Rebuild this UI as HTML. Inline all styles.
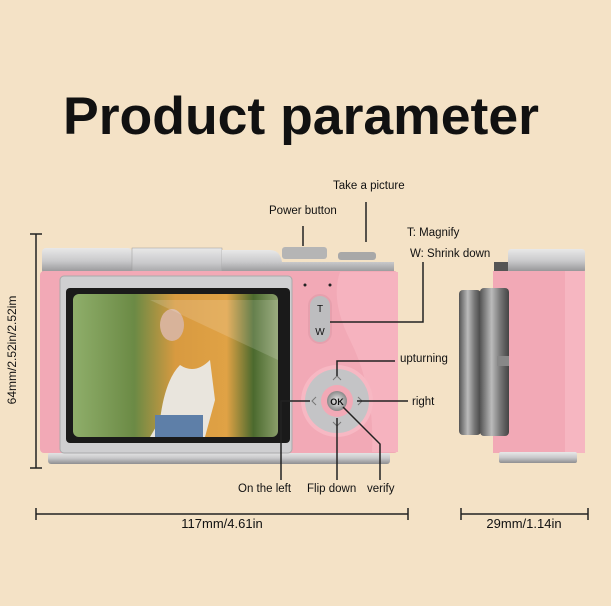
<!DOCTYPE html>
<html><head><style>
html,body{margin:0;padding:0;background:#f4e2c6;}
svg{display:block;}
text{font-family:"Liberation Sans",sans-serif;fill:#111;}
</style></head><body>
<svg width="611" height="606" viewBox="0 0 611 606" xmlns="http://www.w3.org/2000/svg">
<defs>
<linearGradient id="sil" x1="0" y1="0" x2="0" y2="1"><stop offset="0" stop-color="#e8e8e8"/><stop offset="0.5" stop-color="#c9c9cb"/><stop offset="1" stop-color="#8e8e90"/></linearGradient>
<linearGradient id="silh" x1="0" y1="0" x2="1" y2="0"><stop offset="0" stop-color="#555"/><stop offset="0.4" stop-color="#bbb"/><stop offset="0.7" stop-color="#777"/><stop offset="1" stop-color="#444"/></linearGradient>
<linearGradient id="photo" x1="0" y1="0" x2="1" y2="0"><stop offset="0" stop-color="#8fae6a"/><stop offset="0.3" stop-color="#6b8a45"/><stop offset="0.5" stop-color="#d89a40"/><stop offset="0.75" stop-color="#e0a245"/><stop offset="0.88" stop-color="#4b6a2e"/><stop offset="1" stop-color="#8a9e6a"/></linearGradient>
<radialGradient id="ok"><stop offset="0" stop-color="#f2f2f2"/><stop offset="1" stop-color="#888"/></radialGradient>
</defs>
<rect width="611" height="606" fill="#f4e2c6"/>
<text x="301" y="134" font-size="53" font-weight="bold" text-anchor="middle" textLength="476" lengthAdjust="spacingAndGlyphs">Product parameter</text>

<!-- main camera -->
<rect x="42" y="248" width="90" height="26" rx="4" fill="url(#sil)"/>
<rect x="132" y="248" width="90" height="30" fill="url(#sil)" stroke="#999" stroke-width="0.5"/>
<path d="M222 250 H270 Q280 250 282 262 H394 V274 H222Z" fill="url(#sil)"/>
<rect x="282" y="247" width="45" height="12" rx="3" fill="#b5b5b5"/>
<rect x="338" y="252" width="38" height="8" rx="3" fill="#a8a8a8"/>
<rect x="48" y="452" width="342" height="12" rx="3" fill="url(#sil)"/>
<rect x="40" y="271" width="358" height="182" rx="4" fill="#f2a9b6"/>
<path d="M340 272 Q330 300 350 340 Q375 390 372 452 H398 V272Z" fill="#f6b3bf"/>
<rect x="60" y="276" width="232" height="177" rx="4" fill="#cfcfd1" stroke="#aaa" stroke-width="1"/>
<rect x="66" y="288" width="224" height="155" rx="4" fill="#1a1a1a"/>
<rect x="73" y="294" width="205" height="143" rx="6" fill="url(#photo)"/>
<path d="M150 437 L160 420 Q165 380 180 365 Q195 375 210 360 L215 400 L205 437Z" fill="#e9e5dd"/>
<ellipse cx="172" cy="325" rx="12" ry="16" fill="#d8b39a"/>
<rect x="155" y="415" width="48" height="22" fill="#5e7fa8"/>
<path d="M150 300 L278 300 L278 360Z" fill="#fff" opacity="0.15"/>
<circle cx="305" cy="285" r="1.5" fill="#222"/><circle cx="330" cy="285" r="1.5" fill="#222"/>
<rect x="309" y="295" width="22" height="48" rx="11" fill="#bdbdbf" stroke="#e6a0ad" stroke-width="2"/>
<text x="320" y="312" font-size="10" text-anchor="middle" fill="#555">T</text>
<text x="320" y="335" font-size="10" text-anchor="middle" fill="#555">W</text>
<circle cx="337" cy="401" r="36" fill="#f7b8c3"/>
<circle cx="337" cy="401" r="32" fill="#c4c4c6"/>
<circle cx="337" cy="401" r="16" fill="#f2a9b6"/>
<circle cx="337" cy="401" r="10" fill="url(#ok)"/>
<text x="337" y="405" font-size="9" font-weight="bold" text-anchor="middle" fill="#333">OK</text>
<g stroke="#777" stroke-width="1" fill="none">
<path d="M333 380 L337 376 L341 380"/><path d="M333 422 L337 426 L341 422"/>
<path d="M316 397 L312 401 L316 405"/><path d="M358 397 L362 401 L358 405"/>
</g>

<!-- side camera -->
<rect x="508" y="249" width="77" height="24" rx="3" fill="url(#sil)"/>
<rect x="494" y="262" width="14" height="12" fill="#555"/>
<rect x="493" y="271" width="92" height="182" fill="#f2a9b6"/>
<rect x="565" y="271" width="20" height="182" fill="#f6b6c1"/>
<rect x="499" y="452" width="78" height="11" rx="2" fill="url(#sil)"/>
<rect x="459" y="290" width="22" height="145" rx="4" fill="url(#silh)"/>
<rect x="480" y="288" width="29" height="148" rx="4" fill="url(#silh)"/>
<rect x="497" y="356" width="12" height="10" fill="#888"/>

<!-- dimension lines -->
<g stroke="#222" stroke-width="1.5" fill="none">
<path d="M36 234 V468 M30 234 H42 M30 468 H42"/>
<path d="M36 514 H408 M36 508 V520 M408 508 V520"/>
<path d="M461 514 H588 M461 508 V520 M588 508 V520"/>
<path d="M366 202 V242"/>
<path d="M303 226 V246"/>
<path d="M330 322 H423 V262"/>
<path d="M337 376 V361 H395"/>
<path d="M357 401 H408"/>
<path d="M310 401 H281 V480"/>
<path d="M337 418 V480"/>
<path d="M343 407 L380 444 V480"/>
</g>
<text x="0" y="0" font-size="12" transform="translate(16,350) rotate(-90)" text-anchor="middle">64mm/2.52in/2.52im</text>
<text x="222" y="528" font-size="13" text-anchor="middle">117mm/4.61in</text>
<text x="524" y="528" font-size="13" text-anchor="middle">29mm/1.14in</text>
<g font-size="11.5">
<text x="333" y="189">Take a picture</text>
<text x="269" y="214">Power button</text>
<text x="407" y="236">T: Magnify</text>
<text x="410" y="257">W: Shrink down</text>
<text x="400" y="362">upturning</text>
<text x="412" y="405">right</text>
<text x="238" y="492">On the left</text>
<text x="307" y="492">Flip down</text>
<text x="367" y="492">verify</text>
</g>
</svg>
</body></html>
